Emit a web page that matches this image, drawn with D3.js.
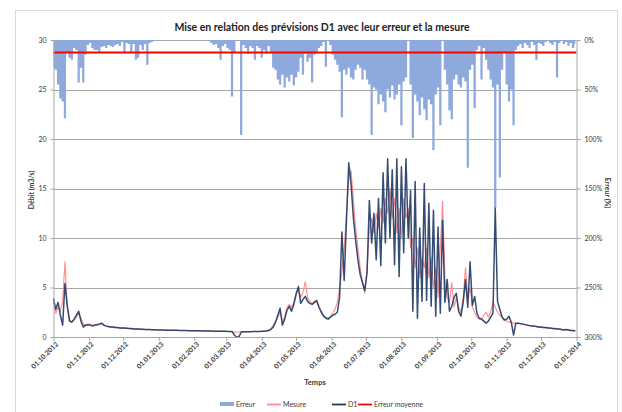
<!DOCTYPE html>
<html><head><meta charset="utf-8">
<script src="https://cdn.jsdelivr.net/npm/d3@7"></script>
<style>
html,body{margin:0;padding:0;background:#fff;}
svg{display:block;font-family:Lato,"Open Sans",sans-serif;}
</style></head>
<body>
<svg id="chart" width="622" height="412"></svg>
<script>
// ---------- DATA (values every 2 days from 01.10.2012) ----------
const startDate = "2012-10-01";
const stepDays = 2;
const seriesNames = ["Erreur", "Mesure", "D1", "Erreur moyenne"];
const leftTicks = [0, 5, 10, 15, 20, 25, 30];
const rightTicks = [0, 50, 100, 150, 200, 250, 300];
const rightTickLabels = ["0%", "50%", "100%", "150%", "200%", "250%", "300%"];
const xTickLabels = ["01.10.2012","01.11.2012","01.12.2012","01.01.2013","01.02.2013","01.03.2013",
  "01.04.2013","01.05.2013","01.06.2013","01.07.2013","01.08.2013","01.09.2013","01.10.2013",
  "01.11.2013","01.12.2013","01.01.2014"];
const meanError = 12.6;

const d1 = [
 3.9,2.8,3.5,2.2,1.2,5.4,3.2,1.6,1.5,1.8,2.2,2.6,1.6,1.0,1.2,1.2,
 1.2,1.1,1.2,1.2,1.3,1.4,1.2,1.1,1.05,1.0,1.0,0.95,0.95,0.9,0.9,
 0.9,0.88,0.85,0.85,0.82,0.8,0.8,0.78,0.78,0.76,0.75,0.75,0.74,0.72,0.72,0.7,
 0.7,0.7,0.69,0.69,0.68,0.68,0.67,0.67,0.66,0.66,0.65,0.65,0.64,0.64,0.63,0.63,
 0.62,0.62,0.61,0.61,0.6,0.6,0.6,0.59,0.59,0.58,0.58,0.57,0.57,0.56,0.56,0.55,
 0.2,0.0,0.0,0.5,
 0.52,0.53,0.53,0.54,0.55,0.55,0.56,0.56,0.57,0.58,0.6,0.65,0.75,
 1.0,1.5,2.2,2.9,1.2,1.8,2.7,3.1,2.6,3.3,4.3,5.1,3.4,3.8,4.1,3.6,3.4,3.3,3.5,3.7,3.0,2.5,2.1,1.9,1.8,2.0,2.2,2.3,2.5,
 4.0,10.6,5.7,11.8,17.6,15.5,12.1,9.8,7.8,6.3,5.5,4.7,
 6.5,13.8,9.5,12.5,7.8,14.0,7.2,16.6,9.5,18.0,10.0,16.9,7.3,18.0,6.1,17.2,8.5,18.0,10.0,14.8,
 2.6,15.7,1.9,11.0,3.6,15.5,3.7,13.5,3.1,12.8,2.1,11.1,2.4,11.8,3.5,
 5.8,2.6,3.1,4.0,4.4,2.6,2.1,3.5,5.8,3.0,7.6,3.2,4.1,2.4,1.9,1.8,1.6,1.4,1.6,2.0,2.4,13.0,3.6,2.8,2.0,1.7,1.8,2.1,1.5,0.2,1.4,1.4,
 1.35,1.3,1.25,1.2,1.15,1.1,1.1,1.05,1.0,1.0,0.95,0.95,0.9,0.9,0.85,0.85,0.8,0.8,0.75,0.7,0.75,0.7,0.65,0.65,0.6
];

const mesure = [
 3.5,2.4,3.0,2.6,3.6,7.6,3.0,1.8,1.5,1.7,2.0,2.4,1.9,1.3,1.2,1.3,
 1.3,1.2,1.2,1.3,1.3,1.4,1.2,1.1,1.05,1.0,1.0,0.95,0.95,0.9,0.9,
 0.9,0.88,0.86,0.85,0.82,0.8,0.8,0.8,0.78,0.76,0.75,0.75,0.74,0.72,0.72,0.7,
 0.7,0.7,0.69,0.69,0.68,0.68,0.67,0.67,0.66,0.66,0.65,0.65,0.64,0.64,0.63,0.63,
 0.62,0.62,0.61,0.61,0.6,0.6,0.6,0.59,0.59,0.58,0.58,0.57,0.57,0.56,0.56,0.55,
 0.5,0.5,0.5,0.5,
 0.52,0.53,0.53,0.54,0.55,0.55,0.56,0.56,0.57,0.6,0.65,0.7,0.85,
 1.2,1.6,2.0,2.5,1.6,2.0,3.0,3.3,3.0,3.5,4.5,4.8,4.0,4.5,5.6,4.0,3.6,3.4,3.6,3.5,3.0,2.6,2.2,2.0,1.9,2.1,2.4,2.8,3.5,
 5.0,6.5,9.0,12.5,16.0,16.8,14.0,11.0,9.0,7.0,5.5,4.4,
 7.0,11.0,12.0,10.5,12.5,11.0,13.0,11.5,14.0,12.5,15.0,12.0,14.0,10.5,13.0,10.0,14.0,12.0,13.0,9.0,
 10.0,7.0,9.0,6.0,8.0,7.0,9.0,6.0,8.0,5.0,7.0,4.0,9.0,13.7,6.0,
 4.0,3.5,5.5,3.0,4.0,3.0,2.5,4.0,7.0,4.0,5.0,3.0,2.5,2.0,1.8,1.8,2.2,2.5,2.0,2.5,3.5,3.0,2.5,2.2,2.0,1.8,1.6,1.5,1.5,1.4,1.4,1.35,
 1.35,1.3,1.25,1.2,1.15,1.1,1.1,1.05,1.0,1.0,0.95,0.95,0.9,0.9,0.85,0.85,0.8,0.8,0.75,0.7,0.75,0.7,0.65,0.65,0.6
];

const erreur = [
 28,30,45,59,62,79,12,18,20,8,10,43,28,43,15,5,
 3,8,10,10,13,7,6,8,5,6,7,5,4,6,2,
 13,3,4,13,4,20,18,5,10,4,25,3,2,1,1,
 0,0,0,0,0,0,0,0,0,0,0,0,0,0,0,0,0,0,0,0,0,0,0,
 3,5,4,8,20,6,4,8,10,57,12,0,0,96,5,8,14,6,8,20,6,8,18,10,14,6,12,
 28,30,40,45,35,48,38,42,35,46,38,32,18,35,14,22,18,43,15,12,8,6,2,27,0,5,15,20,25,
 32,78,30,35,28,38,40,30,25,28,40,30,40,45,96,48,50,65,55,62,73,50,58,46,60,55,45,86,42,38,
 0,45,99,55,62,76,58,70,81,60,65,111,55,48,86,0,30,
 45,71,80,40,35,45,48,38,42,129,30,25,69,10,6,40,8,20,30,40,48,170,45,139,30,12,45,62,50,86,10,6,
 4,8,3,5,8,2,5,20,3,4,6,2,0,3,5,2,38,3,1,4,2,6,3,8,4
];

// ---------- CHART ----------
const svg = d3.select("#chart");
const m = {left: 53.5, right: 576.5, top: 40, bottom: 337};

svg.append("rect").attr("x", 15.5).attr("y", 10.5).attr("width", 602).attr("height", 420)
  .attr("fill", "#fff").attr("stroke", "#d9d9d9");

const parse = d3.utcParse("%Y-%m-%d");
const t0 = parse(startDate);
const dates = d1.map((_, i) => d3.utcDay.offset(t0, i * stepDays));
const x = d3.scaleUtc().domain([t0, parse("2014-01-01")]).range([m.left, m.right]);
const y = d3.scaleLinear().domain([0, 30]).range([m.bottom, m.top]);
const yE = d3.scaleLinear().domain([0, 300]).range([m.top, m.bottom]);

const gridColor = "#a6a6a6";
const textColor = "#3a3a3a";

// gridlines
svg.append("g").selectAll("line").data(leftTicks.slice(1)).join("line")
  .attr("x1", m.left).attr("x2", m.right)
  .attr("y1", d => Math.round(y(d)) + 0.5).attr("y2", d => Math.round(y(d)) + 0.5)
  .attr("stroke", gridColor).attr("stroke-width", 1);

// error area
const data = dates.map((d, i) => ({date: d, e: erreur[i], m: mesure[i], p: d1[i]}));
const area = d3.area().curve(d3.curveStep)
  .x(d => x(d.date)).y0(yE(0)).y1(d => yE(d.e));
svg.append("path").datum(data).attr("d", area).attr("fill", "#8eaadc");

// mean error
svg.append("line").attr("x1", m.left).attr("x2", m.right)
  .attr("y1", yE(meanError)).attr("y2", yE(meanError))
  .attr("stroke", "#ff0000").attr("stroke-width", 2);

// lines
const lineM = d3.line().x(d => x(d.date)).y(d => y(d.m));
const lineP = d3.line().x(d => x(d.date)).y(d => y(d.p));
svg.append("path").datum(data).attr("d", lineM).attr("fill", "none")
  .attr("stroke", "#ff8c8c").attr("stroke-width", 1.1).attr("stroke-linejoin", "round");
svg.append("path").datum(data).attr("d", lineP).attr("fill", "none")
  .attr("stroke", "#1f3864").attr("stroke-width", 1.5).attr("stroke-opacity", 0.9).attr("stroke-linejoin", "round");

// axes
function styleAxis(g) {
  g.selectAll(".domain").attr("stroke", gridColor);
  g.selectAll(".tick line").attr("stroke", gridColor);
  g.selectAll("text").attr("fill", textColor).attr("font-size", 7).attr("font-family", "Lato, sans-serif");
}
svg.append("g").attr("transform", `translate(${m.left},0)`)
  .call(d3.axisLeft(y).tickValues(leftTicks).tickSize(3).tickPadding(4).tickSizeOuter(0))
  .call(styleAxis);
svg.append("g").attr("transform", `translate(${m.right},0)`)
  .call(d3.axisRight(yE).tickValues(rightTicks).tickFormat((d, i) => rightTickLabels[i]).tickSize(4).tickPadding(4).tickSizeOuter(0))
  .call(styleAxis);
const monthTicks = d3.utcMonth.range(t0, d3.utcDay.offset(parse("2014-01-01"), 1));
const gx = svg.append("g").attr("transform", `translate(0,${m.bottom})`)
  .call(d3.axisBottom(x).tickValues(monthTicks).tickFormat((d, i) => xTickLabels[i]).tickSize(4).tickSizeOuter(0))
  .call(styleAxis);
gx.selectAll("text").attr("text-anchor", "end").attr("font-size", 6.8).attr("font-weight", "bold")
  .attr("transform", "translate(3,6) rotate(-45)").attr("dy", "0.35em").attr("y", 0);

// titles
svg.append("text").attr("x", 322).attr("y", 31).attr("text-anchor", "middle")
  .attr("font-size", 10.5).attr("font-weight", "bold").attr("fill", "#222")
  .text("Mise en relation des prévisions D1 avec leur erreur et la mesure");
svg.append("text").attr("transform", "translate(34,190) rotate(-90)").attr("text-anchor", "middle")
  .attr("font-size", 7).attr("font-weight", "bold").attr("fill", textColor).text("Débit (m3/s)");
svg.append("text").attr("transform", "translate(605,193) rotate(90)").attr("text-anchor", "middle")
  .attr("font-size", 7).attr("font-weight", "bold").attr("fill", textColor).text("Erreur (%)");
svg.append("text").attr("x", 315).attr("y", 385).attr("text-anchor", "middle")
  .attr("font-size", 7.5).attr("font-weight", "bold").attr("fill", textColor).text("Temps");

// legend
const legend = [
  {name: seriesNames[0], x: 220, type: "area", color: "#8eaadc"},
  {name: seriesNames[1], x: 267, type: "line", color: "#ff8c8c"},
  {name: seriesNames[2], x: 332, type: "line", color: "#1f3864"},
  {name: seriesNames[3], x: 358, type: "line", color: "#ff0000"}
];
const lg = svg.append("g");
legend.forEach(l => {
  if (l.type === "area") {
    lg.append("rect").attr("x", l.x).attr("y", 402).attr("width", 14).attr("height", 4).attr("fill", l.color);
  } else {
    lg.append("line").attr("x1", l.x).attr("x2", l.x + 14).attr("y1", 404.5).attr("y2", 404.5)
      .attr("stroke", l.color).attr("stroke-width", 1.8);
  }
  lg.append("text").attr("x", l.x + 16).attr("y", 407).attr("font-size", 7).attr("fill", textColor).text(l.name);
});
</script>
</body></html>
